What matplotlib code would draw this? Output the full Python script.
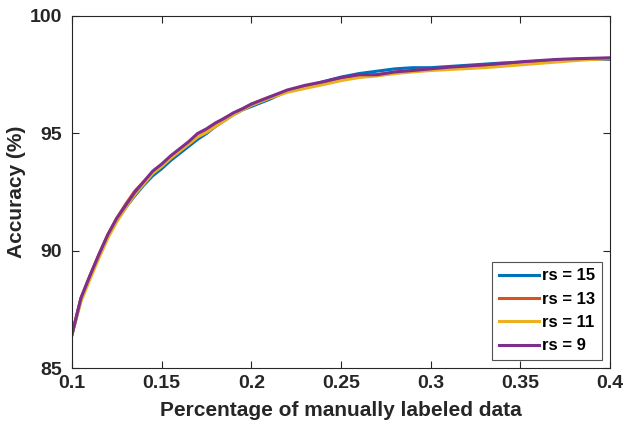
import matplotlib.pyplot as plt

plt.rcParams['font.family'] = ['Liberation Sans Narrow', 'Liberation Sans', 'DejaVu Sans']
plt.rcParams['font.weight'] = 'bold'

x = [0.100, 0.105, 0.110, 0.115, 0.120, 0.125, 0.130, 0.135, 0.140, 0.145,
     0.150, 0.155, 0.160, 0.165, 0.170, 0.175, 0.180, 0.185, 0.190, 0.195,
     0.200, 0.21, 0.22, 0.23, 0.24, 0.25, 0.26, 0.27, 0.28, 0.29,
     0.30, 0.31, 0.32, 0.33, 0.34, 0.35, 0.36, 0.37, 0.38, 0.39, 0.40]

acc_rs15 = [86.45, 87.95, 88.90, 89.80, 90.65, 91.30, 91.85, 92.35, 92.80, 93.20,
            93.50, 93.85, 94.15, 94.45, 94.75, 95.00, 95.30, 95.55, 95.80, 96.00,
            96.15, 96.45, 96.80, 97.00, 97.20, 97.40, 97.55, 97.65, 97.75, 97.80,
            97.80, 97.85, 97.90, 97.95, 98.00, 98.02, 98.08, 98.12, 98.15, 98.17, 98.15]
acc_rs13 = [86.45, 88.00, 88.95, 89.85, 90.70, 91.40, 92.00, 92.55, 92.95, 93.35,
            93.65, 93.95, 94.25, 94.55, 94.85, 95.10, 95.40, 95.65, 95.85, 96.05,
            96.25, 96.55, 96.80, 96.98, 97.12, 97.30, 97.42, 97.50, 97.60, 97.68,
            97.73, 97.78, 97.82, 97.88, 97.93, 97.98, 98.05, 98.10, 98.15, 98.18, 98.20]
acc_rs11 = [86.45, 87.85, 88.80, 89.70, 90.55, 91.25, 91.85, 92.40, 92.85, 93.30,
            93.60, 93.95, 94.25, 94.55, 94.85, 95.05, 95.30, 95.55, 95.80, 96.00,
            96.20, 96.50, 96.75, 96.92, 97.08, 97.25, 97.38, 97.45, 97.55, 97.62,
            97.68, 97.72, 97.76, 97.80, 97.86, 97.92, 97.98, 98.04, 98.10, 98.15, 98.18]
acc_rs9 = [86.45, 88.00, 88.95, 89.85, 90.70, 91.40, 91.95, 92.50, 92.95, 93.40,
           93.70, 94.05, 94.35, 94.65, 95.00, 95.20, 95.45, 95.65, 95.88, 96.05,
           96.25, 96.55, 96.85, 97.05, 97.20, 97.38, 97.50, 97.50, 97.62, 97.68,
           97.75, 97.82, 97.87, 97.92, 97.98, 98.05, 98.10, 98.15, 98.18, 98.20, 98.22]

series = [(acc_rs15, 'rs = 15', '#0072BD'),
          (acc_rs13, 'rs = 13', '#D95319'),
          (acc_rs11, 'rs = 11', '#EDB120'),
          (acc_rs9, 'rs = 9', '#7E2F8E')]

fig = plt.figure(figsize=(6.24, 4.32), dpi=100)
ax = fig.add_axes([0.1154, 0.147, 0.8622, 0.816])

for y, lab, col in series:
    ax.plot(x, y, color=col, lw=2.2, label=lab)

ax.set_xlim(0.1, 0.4)
ax.set_ylim(85, 100)
ax.set_xticks([0.1, 0.15, 0.2, 0.25, 0.3, 0.35, 0.4])
ax.set_xticklabels(['0.1', '0.15', '0.2', '0.25', '0.3', '0.35', '0.4'])
ax.set_yticks([85, 90, 95, 100])
ax.tick_params(direction='in', top=True, right=True, length=5, width=0.8,
               labelsize=14, colors='#262626')
ax.tick_params(axis='x', pad=5)
ax.tick_params(axis='y', pad=7)
for s in ax.spines.values():
    s.set_color('#262626')
    s.set_linewidth(0.8)

ax.set_xlabel('Percentage of manually labeled data', fontsize=15, fontweight='bold',
              color='#262626', labelpad=6)
ax.set_ylabel('Accuracy (%)', fontsize=15, fontweight='bold', color='#262626', labelpad=3)

leg = ax.legend(loc='lower right', fontsize=12, frameon=True, fancybox=False,
                edgecolor='#262626', handlelength=2.4, handletextpad=0.2,
                borderaxespad=0.5, labelspacing=0.5, borderpad=0.4)
leg.get_frame().set_linewidth(0.8)

fig.savefig('out.png', dpi=100)
